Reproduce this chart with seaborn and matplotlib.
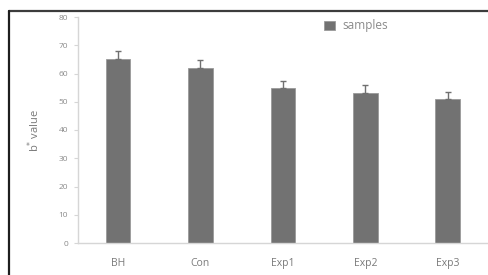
import matplotlib
matplotlib.use("Agg")
import matplotlib.pyplot as plt
import seaborn as sns
import pandas as pd
from matplotlib.lines import Line2D

categories = ["BH", "Con", "Exp1", "Exp2", "Exp3"]
values = [65, 62, 55, 53, 51]
errors = [3.0, 2.7, 2.5, 2.8, 2.6]
y_ticks = [0, 10, 20, 30, 40, 50, 60, 70, 80]

sns.set_theme(style="white")
plt.rcParams['font.family'] = ['Open Sans', 'DejaVu Sans']

df = pd.DataFrame({"group": categories, "value": values})

W, H = 489, 275
fig = plt.figure(figsize=(W/100, H/100), dpi=100)
ax = fig.add_axes([78/W, 1-243/H, (489-78)/W, (243-17)/H])

bar_color = "#727272"
sns.barplot(data=df, x="group", y="value", color=bar_color, width=0.3,
            errorbar=None, ax=ax, label="samples", saturation=1,
            edgecolor="#9a9a9a", linewidth=0.6)
ax.errorbar(range(len(categories)), values, yerr=[[0]*len(errors), errors],
            fmt="none", ecolor="#707070", elinewidth=1.0, capsize=2.5, capthick=1.0)

ax.set_xlim(-0.485, 4.50)
ax.set_ylim(0, 80)
ax.set_yticks(y_ticks)
ax.set_xlabel("")
ax.set_ylabel("b$^{*}$ value", color="#7a7a7a", fontsize=8, labelpad=12)

for s in ["top", "right"]:
    ax.spines[s].set_visible(False)
for s in ["left", "bottom"]:
    ax.spines[s].set_color("#d6d6d6")
    ax.spines[s].set_linewidth(1.0)

ax.tick_params(axis="y", left=True, length=3, width=0.8, color="#d6d6d6",
               labelsize=6, labelcolor="#8a8a8a", pad=4)
ax.tick_params(axis="x", bottom=False, labelsize=7.5, labelcolor="#7a7a7a", pad=5)

ax.legend(loc="center left", bbox_to_anchor=(318/W, 1-26/H),
          bbox_transform=fig.transFigure, frameon=False,
          handlelength=0.9, handleheight=0.9, borderpad=0, handletextpad=0.7,
          fontsize=8.5, labelcolor="#8a8a8a")

# outer frame lines (top and left)
fig.add_artist(Line2D([9/W, 1], [1-11/H, 1-11/H], transform=fig.transFigure,
                      color="#3c3c3c", linewidth=1.6))
fig.add_artist(Line2D([9/W, 9/W], [0, 1-11/H], transform=fig.transFigure,
                      color="#1e1e1e", linewidth=1.6))

fig.savefig("out.png", dpi=100)
